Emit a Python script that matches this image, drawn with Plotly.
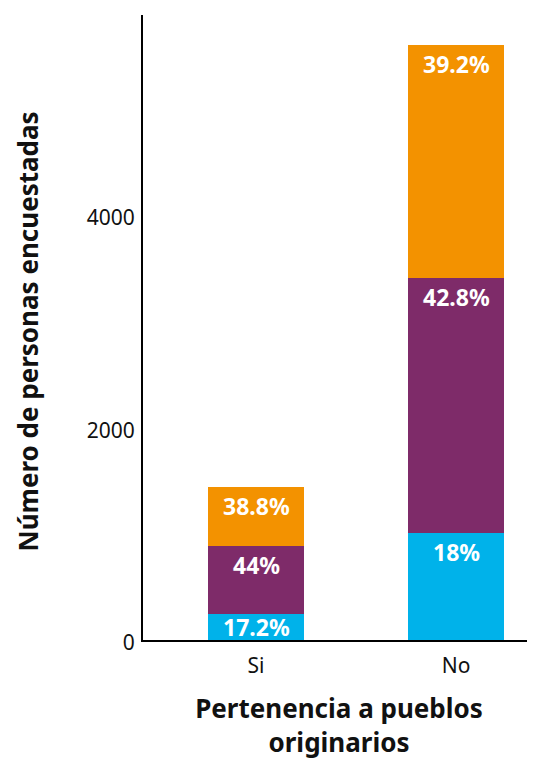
import plotly.graph_objects as go

categories = ["Si", "No"]
series_names = ["Bajo", "Medio", "Alto"]
counts_bajo = [248, 1008]
counts_medio = [634, 2397]
counts_alto = [559, 2195]
pct_bajo = ["17.2%", "18%"]
pct_medio = ["44%", "42.8%"]
pct_alto = ["38.8%", "39.2%"]
y_ticks = [0, 2000, 4000]

colors = ["#00B2EA", "#7E2B69", "#F39200"]
FONT = "Noto Sans"

series = [counts_bajo, counts_medio, counts_alto]
labels = [pct_bajo, pct_medio, pct_alto]

fig = go.Figure()
for name, vals, col in zip(series_names, series, colors):
    fig.add_trace(go.Bar(
        x=categories, y=vals, name=name,
        marker=dict(color=col, line=dict(width=0)),
        width=0.48, hoverinfo="x+y+name",
    ))

# segment labels at the top of each segment (centred when the segment is short)
base = [0] * len(categories)
for vals, txt in zip(series, labels):
    for i, cat in enumerate(categories):
        top = base[i] + vals[i]
        if vals[i] < 400:
            y, anchor, shift = base[i] + vals[i] / 2, "middle", 0
        else:
            y, anchor, shift = top, "top", -1
        fig.add_annotation(
            x=cat, y=y, text=txt[i], showarrow=False,
            xanchor="center", yanchor=anchor, yshift=shift,
            font=dict(family=FONT, size=23, color="white", weight="bold"),
        )
        base[i] = top

# y-axis title
fig.add_annotation(
    x=0, y=0.5, xref="paper", yref="paper",
    text="Número de personas encuestadas", textangle=-90,
    showarrow=False, xanchor="center", yanchor="middle",
    xshift=-116, yshift=-4,
    font=dict(family=FONT, size=26, color="#111111", weight="bold"),
)

fig.update_layout(
    barmode="stack",
    width=527, height=752,
    margin=dict(l=135, r=0, t=7, b=120),
    paper_bgcolor="white", plot_bgcolor="white",
    showlegend=False,
    font=dict(family=FONT, color="#111111"),
)
fig.update_xaxes(
    range=[-0.565, 1.395],
    automargin=False,
    showline=True, linecolor="black", linewidth=2,
    showgrid=False, zeroline=False,
    ticks="outside", ticklen=6, tickcolor="rgba(0,0,0,0)",
    tickfont=dict(size=21, family=FONT),
    title=dict(text="Pertenencia a pueblos<br>originarios",
               font=dict(size=26, family=FONT, weight="bold"), standoff=22),
)
fig.update_yaxes(
    range=[0, 5882],
    tickvals=y_ticks,
    automargin=False,
    showline=True, linecolor="black", linewidth=2,
    showgrid=False, zeroline=False,
    ticks="outside", ticklen=2, tickcolor="rgba(0,0,0,0)",
    ticklabelshift=3,
    tickfont=dict(size=21, family=FONT),
)

fig.write_html("out.html")
